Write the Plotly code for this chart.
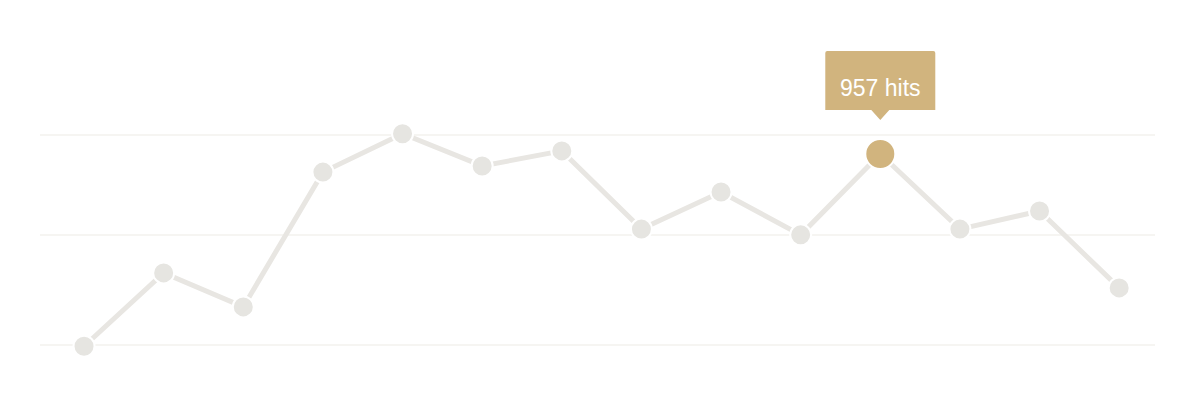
import plotly.graph_objects as go

# data
days = list(range(14))
hits = [522, 688, 611, 916, 1003, 930, 964, 787, 871, 774, 957, 787, 828, 654]
highlight_index = 10
grid_values = [525, 774, 1000]

line_color = "#e8e6e2"
marker_color = "#e6e5e1"
gold = "#d1b47e"

fig = go.Figure()
fig.add_trace(go.Scatter(
    x=days, y=hits, mode="lines+markers",
    line=dict(color=line_color, width=5),
    marker=dict(size=21, color=marker_color, line=dict(color="white", width=2)),
    hoverinfo="skip",
))
fig.add_trace(go.Scatter(
    x=[days[highlight_index]], y=[hits[highlight_index]], mode="markers",
    marker=dict(size=30, color=gold, line=dict(color="white", width=2)),
    hoverinfo="skip",
))

hx, hy = days[highlight_index], hits[highlight_index]
# tooltip box (pixel-sized, anchored at the highlighted point)
fig.add_shape(
    type="path", xref="x", yref="y",
    xsizemode="pixel", ysizemode="pixel", xanchor=hx, yanchor=hy,
    path="M -55 44 L -9 44 L 0 34 L 9 44 L 55 44 L 55 101 Q 55 103 53 103 "
         "L -53 103 Q -55 103 -55 101 Z",
    fillcolor=gold, line=dict(width=0),
)
fig.add_annotation(
    x=hx, y=hy, xref="x", yref="y",
    text=f"{hy} hits", showarrow=False,
    yanchor="middle", yshift=66,
    font=dict(family="Liberation Sans, Arial", size=23, color="white"),
)

fig.update_layout(
    width=1192, height=392,
    margin=dict(l=32, r=45, t=12, b=20),
    paper_bgcolor="white", plot_bgcolor="white",
    showlegend=False,
    xaxis=dict(range=[-0.553, 13.45], showgrid=False, zeroline=False,
               showticklabels=False, ticks=""),
    yaxis=dict(range=[445.6, 1260.2], tickvals=grid_values, showticklabels=False,
               showgrid=True, gridcolor="#f6f5f2", gridwidth=2, zeroline=False),
)

fig.write_html("out.html")
